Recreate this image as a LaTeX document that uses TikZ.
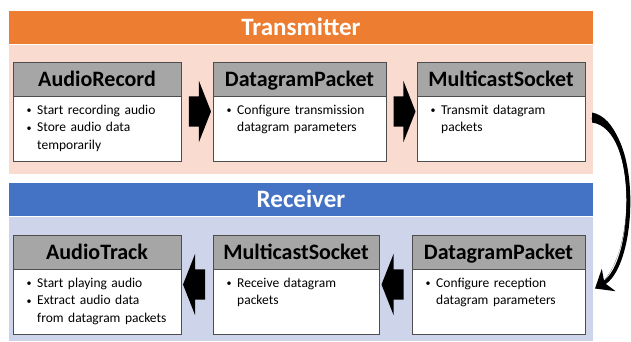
\documentclass[tikz,border=0pt]{standalone}
\usepackage{fontspec}
\setmainfont{Carlito}
\usetikzlibrary{shapes.arrows,calc,arrows.meta}

\definecolor{txorange}{HTML}{ED7D31}
\definecolor{txpink}{HTML}{FADBD0}
\definecolor{rxblue}{HTML}{4472C4}
\definecolor{rxpale}{HTML}{CED5EA}
\definecolor{titlegray}{HTML}{A6A6A6}
\definecolor{boxline}{HTML}{4D4D4D}

% one bullet item; wrapped lines hang under the first word
\newcommand\itm[1]{\leavevmode\rule{0pt}{13pt}%
  \makebox[10.5pt][l]{\fontsize{10}{10}\selectfont\raisebox{0.6pt}{•}}%
  \parbox[t]{150pt}{\raggedright #1}\par}

% a class box: grey title bar, white body, bullet text
\newcommand\classbox[6]{%
  \node[boxtitle, minimum width=#4, anchor=north west] (#1T) at (#2,#3) {#5};
  \node[boxbody, minimum width=#4, anchor=north] (#1B) at (#1T.south) {};
  \node[boxtext, anchor=north west] (#1X) at ($(#1B.north west)+(13.5,5)$) {#6};
}

\begin{document}
\begin{tikzpicture}[x=1pt,y=-1pt,
  band/.style={fill=#1, draw=none, inner sep=0pt, outer sep=0pt,
    minimum width=584pt, minimum height=33pt, text=white,
    font=\fontsize{25}{30}\selectfont\bfseries, text height=19pt, text depth=4pt},
  boxtitle/.style={draw=boxline, line width=0.9pt, fill=titlegray, inner sep=0pt,
    outer sep=0pt, minimum height=34pt, font=\fontsize{22}{26}\selectfont\bfseries,
    text height=19pt, text depth=4pt},
  boxbody/.style={draw=boxline, line width=0.9pt, fill=white, inner sep=0pt,
    outer sep=0pt, minimum height=65pt},
  boxtext/.style={inner sep=0pt, text width=165pt,
    font=\fontsize{13.5}{17.5}\selectfont, execute at begin node={\parindent=0pt\parskip=0pt}},
  blockarrow/.style={single arrow, fill=black, draw=none, inner xsep=0pt,
    inner ysep=15pt, minimum height=22pt, single arrow head extend=15.5pt,
    single arrow tip angle=137, outer sep=0pt},
]
\useasboundingbox (0,0) rectangle (631,341);

% transmitter panel
\node[band=txorange] (txhead) at (301,27.5) {Transmitter};
\fill[txpink] (9,45) rectangle (593,174);

% receiver panel
\node[band=rxblue] (rxhead) at (301,199.5) {Receiver};
\fill[rxpale] (9,217) rectangle (593,341);

% transmitter chain
\classbox{rec}{13}{62}{168pt}{AudioRecord}{\itm{Start recording audio}\itm{Store audio data\\temporarily}}
\classbox{dgt}{213}{62}{173pt}{DatagramPacket}{\itm{Configure transmission\\datagram parameters}}
\classbox{mst}{417}{62}{168pt}{MulticastSocket}{\itm{Transmit datagram\\packets}}

% receiver chain
\classbox{trk}{13}{235}{168pt}{AudioTrack}{\itm{Start playing audio}\itm{Extract audio data\\from datagram packets}}
\classbox{msr}{213}{235}{166pt}{MulticastSocket}{\itm{Receive datagram\\packets}}
\classbox{dgr}{412}{235}{173pt}{DatagramPacket}{\itm{Configure reception\\datagram parameters}}

% block arrows between the boxes
\node[blockarrow] (a1) at ($(recT.north east)!0.5!(dgtB.south west)$) {};
\node[blockarrow] (a2) at ($(dgtB.south east)!0.5!(mstT.north west)$) {};
\node[blockarrow, shape border rotate=180] (a3) at ($(dgrT.north west)!0.5!(msrB.south east)$) {};
\node[blockarrow, shape border rotate=180] (a4) at ($(msrT.north west)!0.5!(trkB.south east)$) {};

% curved hand-over from the transmitter socket to the receiver packet
\coordinate (cstart) at ($(mstB.east)+(7,-11)$);
\coordinate (cend) at ($(dgrB.east)+(10,-13)$);
\fill ($(cstart)+(0,-5)$) .. controls ($(cstart)+(48.5,4.5)$) and ($(cend)+(42,-26)$) .. (cend)
  .. controls ($(cend)+(42,-26)$) and ($(cstart)+(46,11)$) .. ($(cstart)+(0,5)$) -- cycle;
\draw[line width=3.8pt, -{Stealth[length=16pt,width=26pt,inset=5pt]}]
  (cstart) .. controls +(48,8) and +(42,-26) .. (cend);
\end{tikzpicture}
\end{document}
